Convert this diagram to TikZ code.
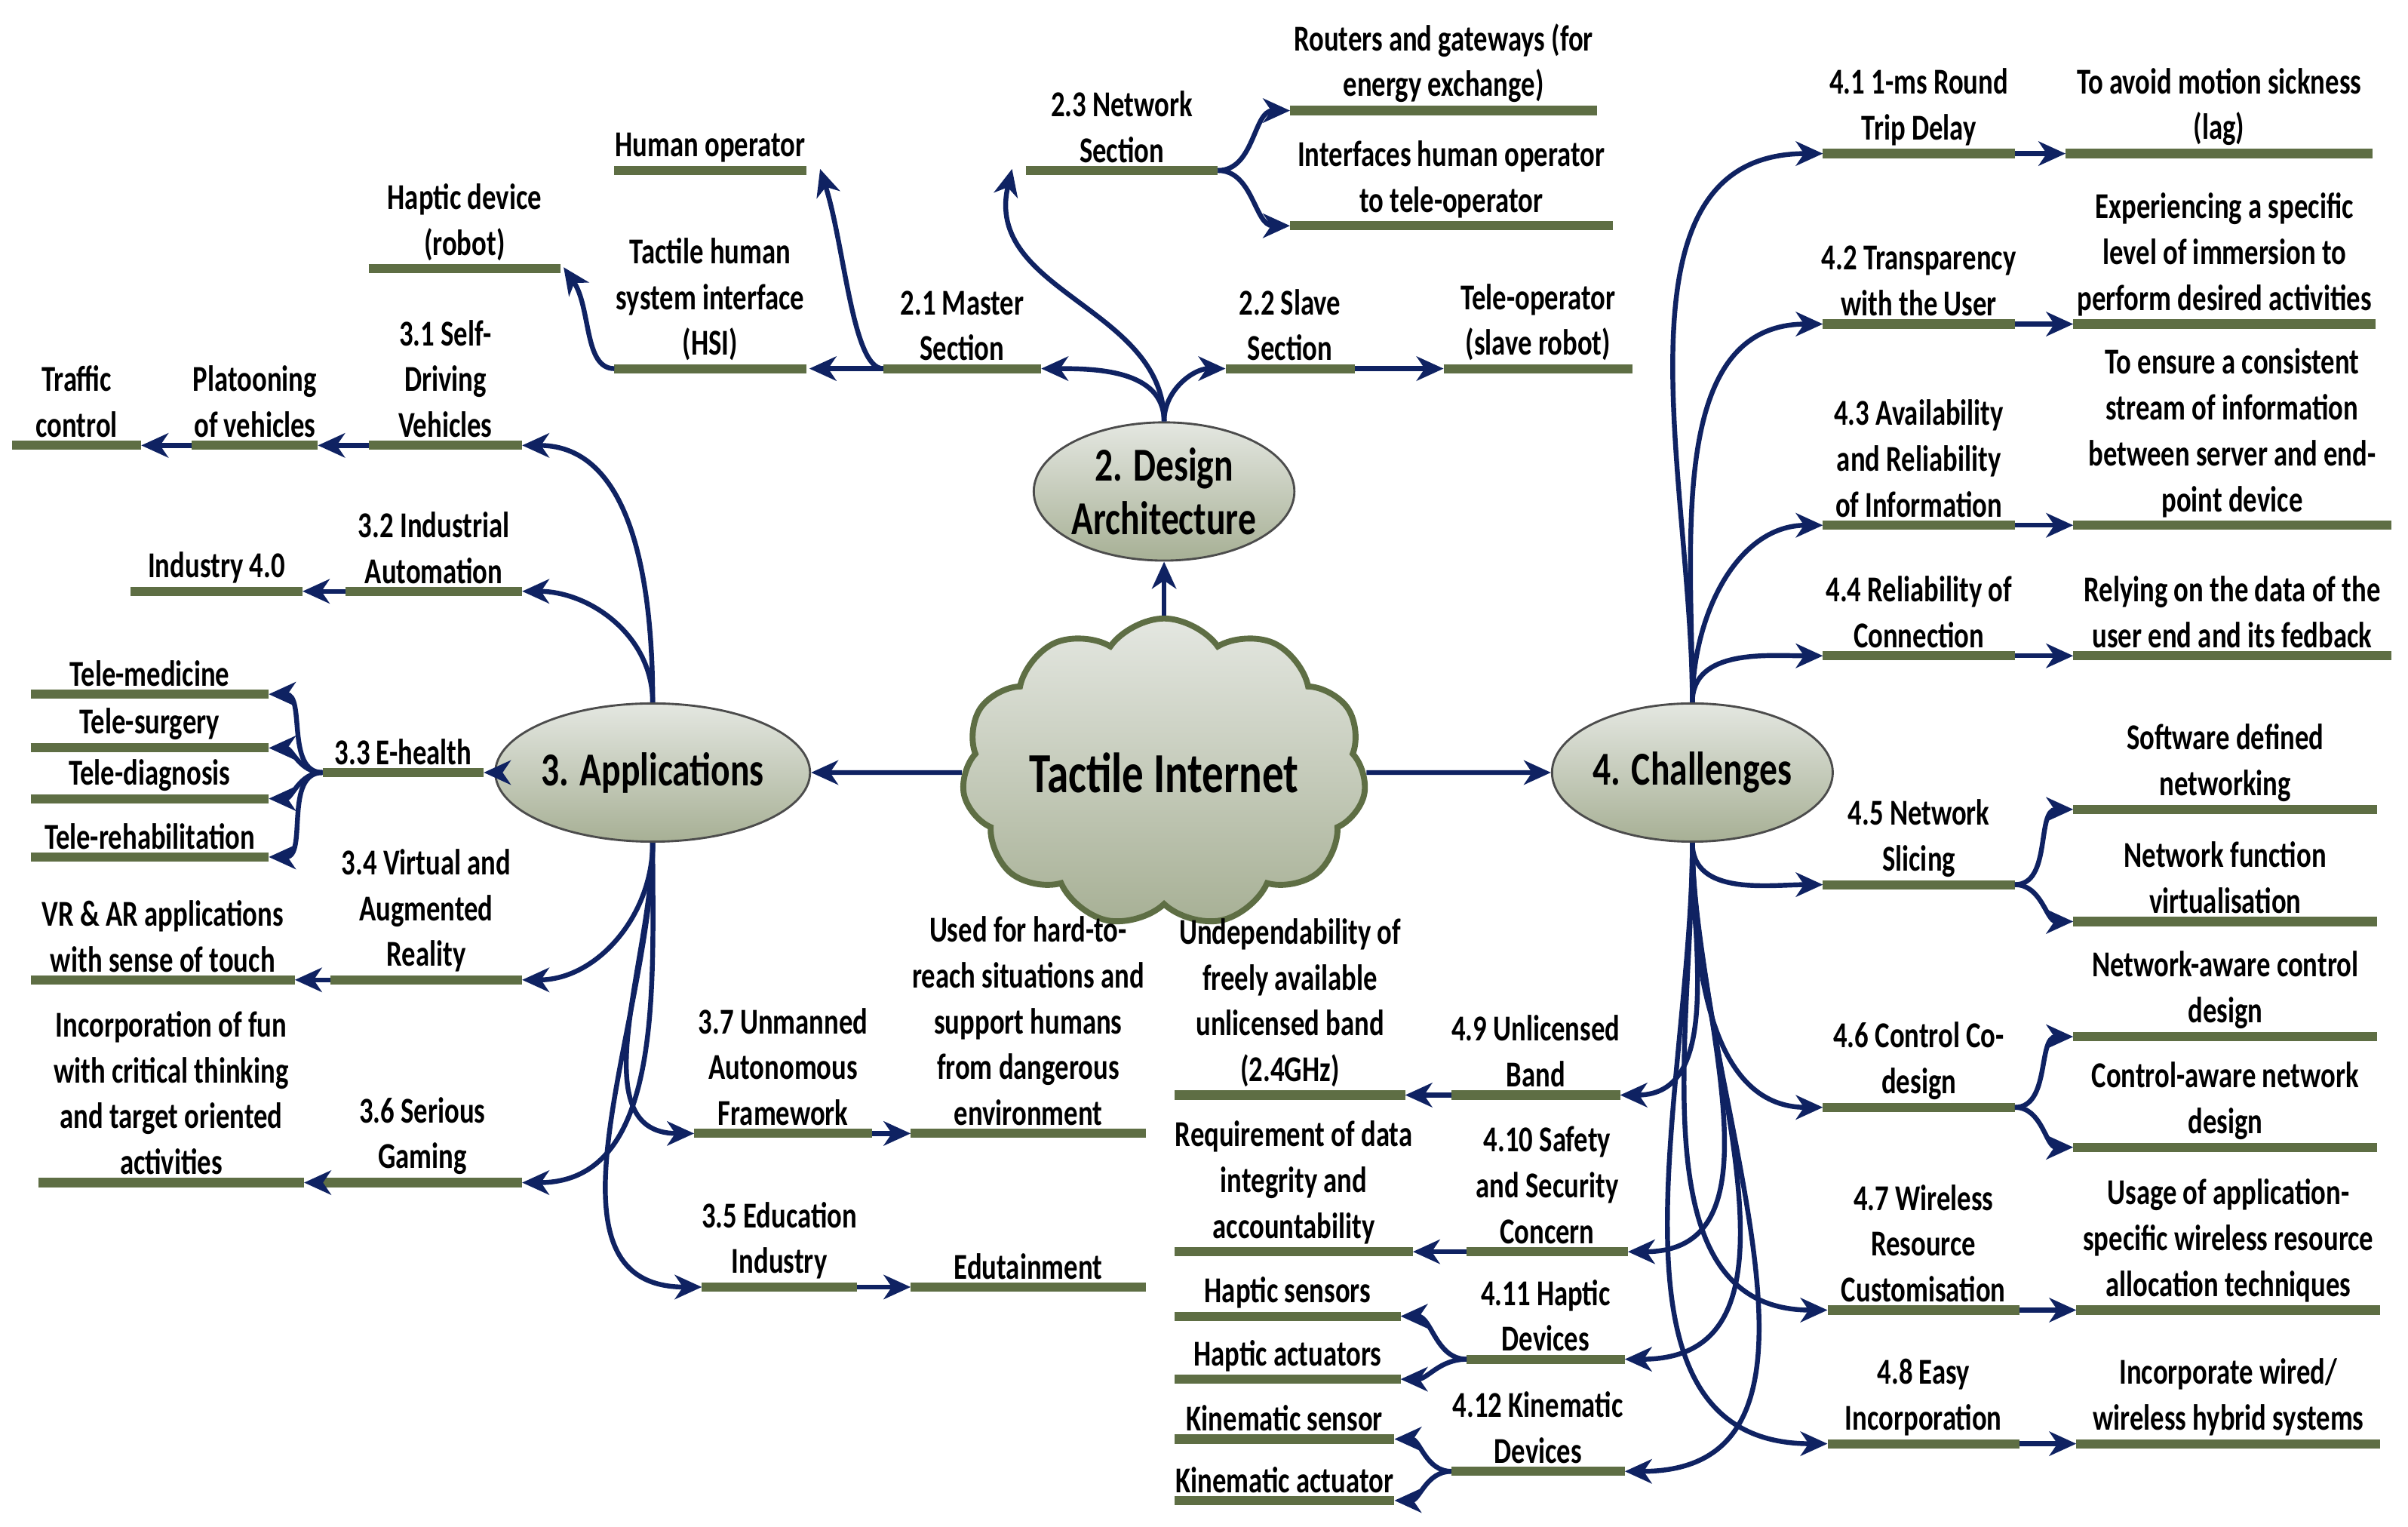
\documentclass[tikz,border=0pt]{standalone}
\usepackage{fontspec}
\setmainfont{Carlito}[FakeStretch=0.76]
\usetikzlibrary{shapes.symbols,shapes.geometric,arrows.meta,calc}
\definecolor{navy}{HTML}{0F2262}
\definecolor{olv}{HTML}{5E6E44}
\definecolor{shtop}{HTML}{E4E7E1}
\definecolor{shbot}{HTML}{A7B095}
\newlength\pgfxx \setlength\pgfxx{0.02cm}
\tikzset{
  ol/.style={draw=olv,line width=3.4pt},
  arr/.style={draw=navy,line width=1.8pt,-{Stealth[length=10pt,width=9pt,inset=3pt]}},
  lab/.style={align=center,inner sep=1pt,font=\bfseries\fontsize{13.5}{17}\selectfont},
  hub/.style={ellipse,draw=gray!60!black,line width=0.8pt,top color=shtop,bottom color=shbot,
     minimum width=165\pgfxx,minimum height=90\pgfxx,align=center,inner sep=0pt,
     font=\bfseries\fontsize{17.5}{20}\selectfont},
}
\newcommand\ulab[5]{%
  \coordinate (#1-l) at (#2,#4); \coordinate (#1-r) at (#3,#4);
  \draw[ol] (#1-l) -- (#1-r);
  \node[lab,anchor=south] (#1) at ({(#2+#3)/2},#4-3) {#5};}
\begin{document}
\begin{tikzpicture}[x=0.02cm,y=-0.02cm]
\useasboundingbox (0,0) rectangle (1568,994);
% hubs
\node[cloud,cloud puffs=11,cloud puff arc=110,aspect=1.45,draw=olv,line width=2.2pt,
  top color=shtop,bottom color=shbot,minimum width=200\pgfxx,minimum height=150\pgfxx,
  inner sep=0pt,font=\bfseries\fontsize{21}{24}\selectfont] (ti) at (758,503) {Tactile Internet};
\node[hub,minimum width=160\pgfxx] (da) at (758,320) {2. Design\\Architecture};
\node[hub] (ap) at (425,503) {3. Applications};
\node[hub] (ch) at (1102,503) {4. Challenges};
\draw[arr] (ti.north) -- (da.south);
\draw[arr] (ti.west) -- (ap.east);
\draw[arr] (ti.east) -- (ch.west);
% design architecture
\ulab{ms}{575}{678}{240}{2.1 Master\\Section}
\ulab{ss}{798}{882}{240}{2.2 Slave\\Section}
\ulab{ns}{668}{793}{111}{2.3 Network\\Section}
\ulab{rg}{840}{1040}{72}{Routers and gateways (for\\energy exchange)}
\ulab{ih}{840}{1050}{147}{Interfaces human operator\\to tele-operator}
\ulab{hsi}{400}{525}{240}{Tactile human\\system interface\\(HSI)}
\ulab{ho}{400}{525}{111}{Human operator}
\ulab{hd}{240}{365}{175}{Haptic device\\(robot)}
\ulab{to}{940}{1063}{240}{Tele-operator\\(slave robot)}
\draw[arr] (da.north) to[out=90,in=0] (ms-r);
\draw[arr] (da.north) to[out=90,in=180] (ss-l);
\draw[arr] (da.north) .. controls (758,200) and (640,190) .. (659,110);
\draw[arr] (ns-r) to[out=0,in=180] (rg-l);
\draw[arr] (ns-r) to[out=0,in=180] (ih-l);
\draw[arr] (ms-l) -- ($(hsi-r)+(2,0)$);
\draw[arr] (ms-l) .. controls (555,240) and (550,160) .. (534,110);
\draw[arr] (hsi-l) .. controls (380,240) and (385,200) .. (367,174);
\draw[arr] (ss-r) -- (to-l);
% applications
\ulab{sd}{240}{340}{290}{3.1 Self-\\Driving\\Vehicles}
\ulab{pv}{125}{207}{290}{Platooning\\of vehicles}
\ulab{tc}{8}{92}{290}{Traffic\\control}
\ulab{ia}{225}{340}{385}{3.2 Industrial\\Automation}
\ulab{i4}{85}{197}{385}{Industry 4.0}
\ulab{eh}{210}{315}{503}{3.3 E-health}
\ulab{tm}{20}{175}{452}{Tele-medicine}
\ulab{ts}{20}{175}{487}{Tele-surgery}
\ulab{td}{20}{175}{520}{Tele-diagnosis}
\ulab{tr}{20}{175}{558}{Tele-rehabilitation}
\ulab{vr}{215}{340}{638}{3.4 Virtual and\\Augmented\\Reality}
\ulab{va}{20}{192}{638}{VR \& AR applications\\with sense of touch}
\ulab{sg}{210}{340}{770}{3.6 Serious\\Gaming}
\ulab{fun}{25}{198}{770}{Incorporation of fun\\with critical thinking\\and target oriented\\activities}
\ulab{ua}{452}{568}{738}{3.7 Unmanned\\Autonomous\\Framework}
\ulab{hr}{593}{746}{738}{Used for hard-to-\\reach situations and\\support humans\\from dangerous\\environment}
\ulab{ei}{457}{558}{838}{3.5 Education\\Industry}
\ulab{ed}{593}{746}{838}{Edutainment}
\draw[arr] (ap.north) to[out=90,in=0] (sd-r);
\draw[arr] (ap.north) to[out=90,in=0] (ia-r);
\draw[arr] (ap.west) -- (eh-r);
\draw[arr] (ap.south) to[out=-90,in=0] (vr-r);
\draw[arr] (ap.south) to[out=-90,in=0] (sg-r);
\draw[arr] (ap.south) to[out=-90,in=180] (ua-l);
\draw[arr] (ap.south) to[out=-90,in=180] (ei-l);
\draw[arr] (sd-l) -- (pv-r);
\draw[arr] (pv-l) -- (tc-r);
\draw[arr] (ia-l) -- (i4-r);
\foreach \t in {tm,ts,td,tr} \draw[arr] (eh-l) to[out=180,in=0] (\t-r);
\draw[arr] (vr-l) -- (va-r);
\draw[arr] (sg-l) -- (fun-r);
\draw[arr] (ua-r) -- (hr-l);
\draw[arr] (ei-r) -- (ed-l);
% challenges right
\ulab{c1}{1187}{1312}{100}{4.1 1-ms Round\\Trip Delay}
\ulab{d1}{1345}{1545}{100}{To avoid motion sickness\\(lag)}
\ulab{c2}{1187}{1312}{211}{4.2 Transparency\\with the User}
\ulab{d2}{1350}{1547}{211}{Experiencing a specific\\level of immersion to\\perform desired activities}
\ulab{c3}{1187}{1312}{342}{4.3 Availability\\and Reliability\\of Information}
\ulab{d3}{1350}{1557}{342}{To ensure a consistent\\stream of information\\between server and end-\\point device}
\ulab{c4}{1187}{1312}{427}{4.4 Reliability of\\Connection}
\ulab{d4}{1350}{1557}{427}{Relying on the data of the\\user end and its fedback}
\ulab{c5}{1187}{1312}{576}{4.5 Network\\Slicing}
\ulab{d5a}{1350}{1548}{527}{Software defined\\networking}
\ulab{d5b}{1350}{1548}{600}{Network function\\virtualisation}
\ulab{c6}{1187}{1312}{721}{4.6 Control Co-\\design}
\ulab{d6a}{1350}{1548}{675}{Network-aware control\\design}
\ulab{d6b}{1350}{1548}{747}{Control-aware network\\design}
\ulab{c7}{1190}{1315}{853}{4.7 Wireless\\Resource\\Customisation}
\ulab{d7}{1352}{1550}{853}{Usage of application-\\specific wireless resource\\allocation techniques}
\ulab{c8}{1190}{1315}{940}{4.8 Easy\\Incorporation}
\ulab{d8}{1352}{1550}{940}{Incorporate wired/\\wireless hybrid systems}
\foreach \c in {c1,c2,c3,c4} \draw[arr] (ch.north) to[out=90,in=180] (\c-l);
\foreach \c in {c5,c6,c7,c8} \draw[arr] (ch.south) to[out=-90,in=180] (\c-l);
\foreach \c/\d in {c1/d1,c2/d2,c3/d3,c4/d4,c7/d7,c8/d8} \draw[arr] (\c-r) -- (\d-l);
\draw[arr] (c5-r) to[out=0,in=180] (d5a-l);
\draw[arr] (c5-r) to[out=0,in=180] (d5b-l);
\draw[arr] (c6-r) to[out=0,in=180] (d6a-l);
\draw[arr] (c6-r) to[out=0,in=180] (d6b-l);
% challenges left
\ulab{c9}{945}{1055}{713}{4.9 Unlicensed\\Band}
\ulab{e9}{765}{915}{713}{Undependability of\\freely available\\unlicensed band\\(2.4GHz)}
\ulab{c10}{955}{1060}{815}{4.10 Safety\\and Security\\Concern}
\ulab{e10}{765}{920}{815}{Requirement of data\\integrity and\\accountability}
\ulab{c11}{955}{1058}{885}{4.11 Haptic\\Devices}
\ulab{hs}{765}{912}{857}{Haptic sensors}
\ulab{ha}{765}{912}{898}{Haptic actuators}
\ulab{c12}{945}{1058}{958}{4.12 Kinematic\\Devices}
\ulab{ks}{765}{908}{937}{Kinematic sensor}
\ulab{ka}{765}{908}{977}{Kinematic actuator}
\foreach \c in {c9,c10,c11,c12} \draw[arr] (ch.south) to[out=-90,in=0] (\c-r);
\draw[arr] (c9-l) -- (e9-r);
\draw[arr] (c10-l) -- (e10-r);
\draw[arr] (c11-l) to[out=180,in=0] (hs-r);
\draw[arr] (c11-l) to[out=180,in=0] (ha-r);
\draw[arr] (c12-l) to[out=180,in=0] (ks-r);
\draw[arr] (c12-l) to[out=180,in=0] (ka-r);
\end{tikzpicture}
\end{document}
